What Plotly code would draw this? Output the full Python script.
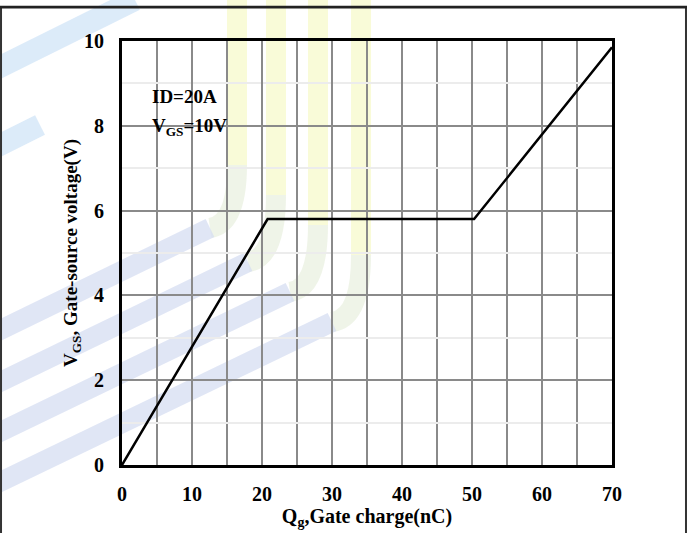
import plotly.graph_objects as go

# Data
qg_nc = [0, 20.8, 50.3, 70]
vgs_v = [0, 5.8, 5.8, 9.85]
x_ticks = [0, 10, 20, 30, 40, 50, 60, 70]
y_ticks = [0, 2, 4, 6, 8, 10]
x_minor = [5, 15, 25, 35, 45, 55, 65]
y_minor = [1, 3, 5, 7, 9]

FONT = "Liberation Serif"
W, H = 694, 533
L, R, T, B = 122, 82, 41, 68
PW, PH = W - L - R, H - T - B


def px(x):
    return (x - L) / PW


def py(y):
    return (H - B - y) / PH


def P(x, y):
    return f"{px(x):.4f},{py(y):.4f}"


fig = go.Figure()
fig.add_trace(go.Scatter(x=qg_nc, y=vgs_v, mode="lines",
                         line=dict(color="black", width=2.5), showlegend=False,
                         hoverinfo="skip"))

# Faint watermark bands (decorative)
bands = [
    (237, 165, (210, 228), 330),
    (276, 195, (248, 262), 382),
    (318, 225, (290, 292), 432),
    (361, 255, (332, 322), 482),
]

for xv, yc, (xe, ye), yl in bands:
    slope = (yl - ye) / xe
    fig.add_shape(type="path", xref="paper", yref="paper",
                  path=f"M {P(xv, -5)} L {P(xv, yc)}",
                  line=dict(color="rgba(246,250,200,0.7)", width=20), layer="below")
    fig.add_shape(type="path", xref="paper", yref="paper",
                  path=f"M {P(xv, yc)} Q {P(xv, ye - 4)} {P(xe, ye)}",
                  line=dict(color="rgba(232,240,222,0.7)", width=20), layer="below")
    fig.add_shape(type="path", xref="paper", yref="paper",
                  path=f"M {P(xe, ye)} L {P(-10, ye + slope * (xe + 10))}",
                  line=dict(color="rgba(214,222,242,0.75)", width=20), layer="below")

for (x0, y0, x1, y1) in [(-10, 72, 135, 0), (-10, 150, 40, 125)]:
    fig.add_shape(type="path", xref="paper", yref="paper",
                  path=f"M {P(x0, y0)} L {P(x1, y1)}",
                  line=dict(color="rgba(205,226,246,0.7)", width=22), layer="below")

# Outer frame: right and left edges, and top rule as a filled strip
fig.add_shape(type="path", xref="paper", yref="paper",
              path=f"M {P(686, 7)} L {P(686, 540)} M {P(1, 7)} L {P(1, 540)}",
              line=dict(color="#333", width=2), layer="above")
fig.add_shape(type="rect", xref="paper", yref="paper",
              x0=px(0), x1=px(687), y0=py(8.5), y1=py(5.8),
              fillcolor="#222", line=dict(width=0), layer="above")

fig.update_layout(
    width=W, height=H,
    margin=dict(l=L, r=R, t=T, b=B),
    paper_bgcolor="white", plot_bgcolor="rgba(0,0,0,0)",
    font=dict(family=FONT, color="black"),
    xaxis=dict(range=[0, 70], tickvals=x_ticks, showgrid=True,
               gridcolor="#8a8a8a", gridwidth=1.5,
               minor=dict(tickvals=x_minor, showgrid=True, gridcolor="#8a8a8a", gridwidth=1.5),
               showline=True, linecolor="black", linewidth=3, mirror=True,
               zeroline=False, ticks="", ticklabelstandoff=9,
               tickfont=dict(family=FONT, size=20, color="black", weight="bold"),
               title=dict(text="<b>Q<sub>g</sub>,Gate charge(nC)</b>", standoff=1,
                          font=dict(family=FONT, size=20, color="black"))),
    yaxis=dict(range=[0, 10], tickvals=y_ticks, showgrid=True,
               gridcolor="#8a8a8a", gridwidth=1.5,
               minor=dict(tickvals=y_minor, showgrid=True, gridcolor="#ececec", gridwidth=1.5),
               showline=True, linecolor="black", linewidth=3, mirror=True,
               zeroline=False, ticks="", ticklabelstandoff=11,
               tickfont=dict(family=FONT, size=20, color="black", weight="bold"),
               title=dict(text="<b>V<sub>GS</sub>, Gate-source voltage(V)</b>", standoff=2,
                          font=dict(family=FONT, size=19, color="black"))),
)

fig.add_annotation(x=4, y=8.68, xref="x", yref="y", text="<b>ID=20A</b>",
                   showarrow=False, xanchor="left", yanchor="middle",
                   font=dict(family=FONT, size=19, color="black"))
fig.add_annotation(x=4, y=7.97, xref="x", yref="y", text="<b>V<sub>GS</sub>=10V</b>",
                   showarrow=False, xanchor="left", yanchor="middle",
                   font=dict(family=FONT, size=19, color="black"))

fig.write_html("out.html", config={"displayModeBar": False},
               post_script="document.body.style.margin='0';")
